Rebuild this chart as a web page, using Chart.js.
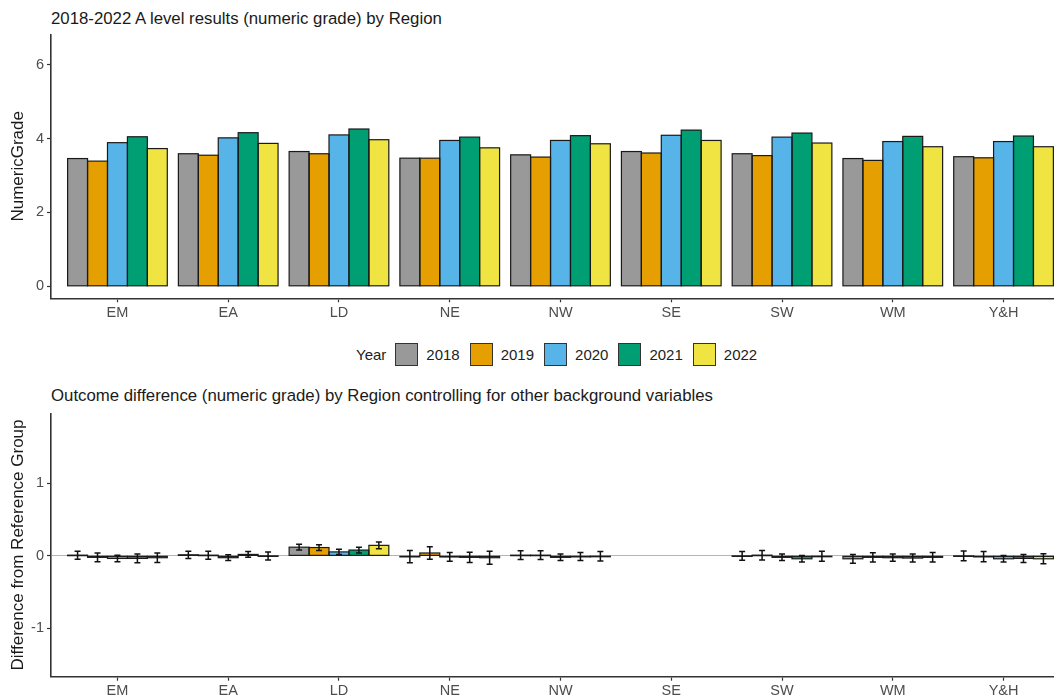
<!DOCTYPE html>
<html>
<head>
<meta charset="utf-8">
<script src="https://cdn.jsdelivr.net/npm/chart.js@4.4.1/dist/chart.umd.min.js"></script>
<style>
  html, body { margin: 0; padding: 0; background: #fff; overflow: hidden; width: 1054px; height: 698px; }
  body { position: relative; font-family: "Liberation Sans", Arial, sans-serif; }
  canvas { position: absolute; left: 0; }
  .title { position: absolute; left: 51px; font-size: 16.8px; line-height: 20px; color: #1a1a1a; white-space: nowrap; }
  #legend { position: absolute; left: 356px; top: 343px; height: 23px; display: flex; align-items: center; font-size: 15px; color: #222; }
  #legend .box { width: 21px; height: 21px; border: 1.5px solid #333; margin-right: 8px; }
  #legend .lab { margin-right: 10px; }
</style>
</head>
<body>
<div class="title" style="top:9px">2018-2022 A level results (numeric grade) by Region</div>
<canvas id="top" width="1070" height="325" style="top:0"></canvas>
<div id="legend"></div>
<div class="title" style="top:386px">Outcome difference (numeric grade) by Region controlling for other background variables</div>
<canvas id="bottom" width="1070" height="318" style="top:380px"></canvas>
<script>
const regions = ["EM", "EA", "LD", "NE", "NW", "SE", "SW", "WM", "Y&H"];
const years = ["2018", "2019", "2020", "2021", "2022"];
const colours = ["#999999", "#E69F00", "#56B4E9", "#009E73", "#F0E442"];

// mean numeric grade per region
const grade2018 = [3.46, 3.59, 3.65, 3.47, 3.56, 3.65, 3.59, 3.46, 3.51];
const grade2019 = [3.39, 3.55, 3.59, 3.47, 3.50, 3.61, 3.54, 3.41, 3.48];
const grade2020 = [3.89, 4.02, 4.10, 3.95, 3.95, 4.09, 4.04, 3.92, 3.92];
const grade2021 = [4.05, 4.16, 4.26, 4.04, 4.08, 4.23, 4.15, 4.06, 4.07];
const grade2022 = [3.73, 3.87, 3.97, 3.75, 3.86, 3.95, 3.88, 3.78, 3.78];

// difference from reference group (SE), with error half-widths
const diff2018 = [0.01, 0.015, 0.12, -0.01, 0.01, null, 0.0, -0.04, 0.0];
const diff2019 = [-0.02, 0.01, 0.115, 0.04, 0.01, null, 0.01, -0.02, -0.01];
const diff2020 = [-0.035, -0.025, 0.055, -0.015, -0.02, null, -0.02, -0.025, -0.04];
const diff2021 = [-0.035, 0.02, 0.08, -0.02, -0.01, null, -0.04, -0.03, -0.035];
const diff2022 = [-0.025, 0.0, 0.145, -0.025, -0.005, null, -0.005, -0.02, -0.04];
const err2018 = [0.055, 0.05, 0.04, 0.085, 0.06, null, 0.06, 0.06, 0.066];
const err2019 = [0.06, 0.055, 0.04, 0.085, 0.06, null, 0.065, 0.064, 0.07];
const err2020 = [0.045, 0.04, 0.035, 0.06, 0.045, null, 0.045, 0.05, 0.045];
const err2021 = [0.06, 0.04, 0.04, 0.07, 0.055, null, 0.045, 0.055, 0.055];
const err2022 = [0.065, 0.055, 0.048, 0.09, 0.065, null, 0.07, 0.066, 0.07];

const topTicks = [0, 2, 4, 6];
const bottomTicks = [-1, 0, 1];

const grades = [grade2018, grade2019, grade2020, grade2021, grade2022];
const diffs = [diff2018, diff2019, diff2020, diff2021, diff2022];
const errs = [err2018, err2019, err2020, err2021, err2022];

const FONT = "'Liberation Sans', Arial, sans-serif";

// legend
const legend = document.getElementById("legend");
legend.innerHTML = '<span class="lab" style="margin-right:9px">Year</span>' +
  years.map((y, i) => `<span class="box" style="background:${colours[i]}"></span><span class="lab">${y}</span>`).join("");

// ggplot-style outlines (stroke centred on the edge, even for tiny bars) + error bars
const barDecor = {
  id: "barDecor",
  afterDatasetsDraw(chart) {
    const { ctx } = chart;
    const yScale = chart.scales.y;
    ctx.save();
    ctx.strokeStyle = "#1a1a1a";
    ctx.lineWidth = 1.2;
    chart.data.datasets.forEach((ds, di) => {
      const meta = chart.getDatasetMeta(di);
      meta.data.forEach((bar, i) => {
        if (ds.data[i].y == null) return;
        const { x, y, base, width } = bar.getProps(["x", "y", "base", "width"], true);
        ctx.strokeRect(x - width / 2, Math.min(y, base), width, Math.max(Math.abs(base - y), 0.5));
      });
    });
    ctx.strokeStyle = "#111";
    ctx.lineWidth = 1.5;
    chart.data.datasets.forEach((ds, di) => {
      if (!ds.errors) return;
      const meta = chart.getDatasetMeta(di);
      ds.errors.forEach((e, i) => {
        const v = ds.data[i].y;
        if (v == null || e == null) return;
        const x = meta.data[i].x;
        const t = yScale.getPixelForValue(v + e);
        const b = yScale.getPixelForValue(v - e);
        ctx.beginPath();
        ctx.moveTo(x, t); ctx.lineTo(x, b);
        ctx.moveTo(x - 3, t); ctx.lineTo(x + 3, t);
        ctx.moveTo(x - 3, b); ctx.lineTo(x + 3, b);
        ctx.stroke();
      });
    });
    ctx.restore();
  }
};

function makeChart(id, series, errors, yMin, yMax, yTicks, yTitle, padTop, xHeight, zeroLine) {
  return new Chart(document.getElementById(id), {
    type: "bar",
    data: {
      datasets: years.map((yr, k) => ({
        label: yr,
        data: regions.map((r, i) => ({ x: i + 1, y: series[k][i] })),
        errors: errors ? errors[k] : null,
        backgroundColor: colours[k],
        borderWidth: 0,
        categoryPercentage: 0.9,
        barPercentage: 1.0
      }))
    },
    options: {
      responsive: false,
      animation: false,
      devicePixelRatio: 1,
      layout: { padding: { top: padTop, left: 0, right: 0, bottom: 0 } },
      plugins: { legend: { display: false }, tooltip: { enabled: false } },
      scales: {
        x: {
          type: "linear",
          min: 0.4,
          max: 9.6,
          offset: false,
          afterBuildTicks: s => { s.ticks = regions.map((r, i) => ({ value: i + 1 })); },
          afterFit: s => { s.height = xHeight; },
          ticks: {
            callback: v => regions[v - 1],
            color: "#4d4d4d",
            font: { family: FONT, size: 14.5 },
            padding: 2,
            maxRotation: 0,
            autoSkip: false
          },
          grid: { offset: false, drawOnChartArea: false, drawTicks: true, tickLength: 4, tickColor: "#333", tickWidth: 1.2 },
          border: { display: true, color: "#333", width: 1.6 }
        },
        y: {
          min: yMin,
          max: yMax,
          afterBuildTicks: s => { s.ticks = yTicks.map(v => ({ value: v })); },
          afterFit: s => { s.width = 51; },
          ticks: {
            color: "#4d4d4d",
            font: { family: FONT, size: 14.5 },
            padding: 3
          },
          grid: {
            drawOnChartArea: zeroLine,
            color: c => (c.tick && c.tick.value === 0 ? "#b5b5b5" : "rgba(0,0,0,0)"),
            lineWidth: 1,
            tickLength: 4,
            tickColor: "#333",
            tickWidth: 1.2
          },
          border: { display: true, color: "#333", width: 1.6 },
          title: {
            display: true,
            text: yTitle,
            color: "#1a1a1a",
            font: { family: FONT, size: 17 },
            padding: { top: 8, bottom: 0 }
          }
        }
      }
    },
    plugins: [barDecor]
  });
}

makeChart("top", grades, null, -0.325, 6.825, topTicks, "NumericGrade", 34.3, 26.7, false);
makeChart("bottom", diffs, errs, -1.665, 1.965, bottomTicks, "Difference from Reference Group", 33.3, 21.3, true);
</script>
</body>
</html>
